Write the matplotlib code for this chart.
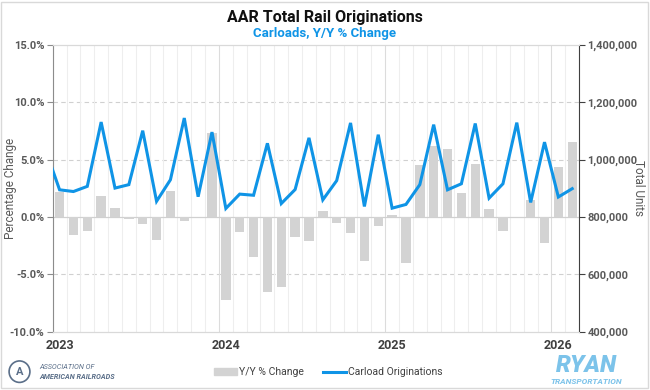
import matplotlib.pyplot as plt
import matplotlib.patches as mpatches
from matplotlib.lines import Line2D
from matplotlib.ticker import FuncFormatter
import numpy as np

plt.rcParams['font.family'] = ['Roboto', 'DejaVu Sans']

# Y/Y % change, Jan 2023 .. Feb 2026
yoy_pct = [2.2, -1.6, -1.2, 1.8, 0.8, -0.2, -0.6, -2.0, 2.3, -0.3, 0.0, 7.3,
           -7.2, -1.3, -3.5, -6.5, -6.1, -1.7, -2.1, 0.55, -0.5, -1.4, -3.8, -0.8,
           0.2, -4.0, 4.5, 6.2, 5.9, 2.1, 4.6, 0.7, -1.2, 0.0, 1.5, -2.3,
           4.4, 6.5]

# carload originations, Dec 2022 .. Feb 2026 (Dec 2022 is clipped by the axis)
carloads = [1033000,
            895000, 889000, 907000, 1131000, 901000, 913000, 1101000, 855000, 930000, 1145000, 871000, 1096000,
            830000, 880000, 876000, 1057000, 847000, 896000, 1076000, 860000, 927000, 1128000, 837000, 1087000,
            831000, 844000, 913000, 1122000, 895000, 916000, 1126000, 866000, 916000, 1129000, 851000, 1061000,
            870000, 899000]

year_labels = ['2023', '2024', '2025', '2026']

blue = '#0f94e6'
grey_bar = '#d3d3d3'
txt = '#595959'

fig = plt.figure(figsize=(6.5, 3.9), dpi=100)
ax = fig.add_axes([0.081, 0.149, 0.810, 0.736])
ax2 = ax.twinx()

x_bar = np.arange(len(yoy_pct))
x_line = np.arange(len(carloads)) - 1

ax.bar(x_bar, yoy_pct, width=0.68, color=grey_bar, zorder=2)
ax2.plot(x_line, carloads, color=blue, lw=2.2, zorder=3, solid_joinstyle='miter')

ax.set_xlim(-0.5, len(yoy_pct) - 0.5)
ax.set_ylim(-10, 15)
ax2.set_ylim(400000, 1400000)

ax.set_yticks(np.arange(-10, 16, 5))
ax.yaxis.set_major_formatter(FuncFormatter(lambda v, p: f'{v:.1f}%'))
ax2.set_yticks(np.arange(400000, 1400001, 200000))
ax2.yaxis.set_major_formatter(FuncFormatter(lambda v, p: f'{v:,.0f}'))

ax.set_xticks([0, 12, 24, 36])
ax.set_xticklabels(year_labels)
ax.tick_params(axis='x', which='both', length=0, pad=5, labelsize=9, labelcolor='#404040')
for lab in ax.get_xticklabels():
    lab.set_fontweight('bold')

# grid
for v in [-5, 5, 10]:
    ax.axhline(v, color='#d0d0d0', lw=0.8, ls=(0, (4, 3)), zorder=0)
ax.axhline(0, color='#d0d0d0', lw=0.9, zorder=1)
for b in np.arange(-0.5, len(yoy_pct), 1):
    c = '#dcdcdc' if (b + 0.5) % 12 == 0 else '#eeeeee'
    ax.axvline(b, color=c, lw=0.8, zorder=0)

for a in (ax, ax2):
    a.spines['top'].set_color('#d9d9d9')
    a.spines['bottom'].set_color('#d9d9d9')
ax.spines['left'].set_color('#8c8c8c')
ax.spines['right'].set_visible(False)
ax2.spines['left'].set_visible(False)
ax2.spines['right'].set_color('#404040')

ax.tick_params(axis='y', length=4, color='#8c8c8c', labelsize=8, labelcolor=txt, pad=2)
ax2.tick_params(axis='y', length=4, color='#404040', labelsize=8, labelcolor=txt, pad=2)
for lab in ax.get_yticklabels() + ax2.get_yticklabels():
    lab.set_fontweight('bold')

fig.text(0.016, 0.517, 'Percentage Change', rotation=90, ha='center', va='center',
         fontsize=8.5, color=txt)
fig.text(0.983, 0.517, 'Total Units', rotation=270, ha='center', va='center',
         fontsize=8.5, color=txt)

fig.text(0.5, 0.955, 'AAR Total Rail Originations', ha='center', va='center',
         fontsize=11.5, fontweight='bold', color='#111111')
fig.text(0.5, 0.913, 'Carloads, Y/Y % Change', ha='center', va='center',
         fontsize=9.5, fontweight='bold', color=blue)

handles = [mpatches.Patch(color=grey_bar, label='Y/Y % Change'),
           Line2D([0], [0], color=blue, lw=2.2, label='Carload Originations')]
leg = fig.legend(handles=handles, loc='center', bbox_to_anchor=(0.505, 0.045), ncol=2,
                 frameon=False, fontsize=7.5, handlelength=2.2, columnspacing=1.8,
                 handletextpad=0.2)
for t in leg.get_texts():
    t.set_color('#404040')

# AAR logo (approximation)
logo_c = '#5b6f89'
fig.patches.append(mpatches.Ellipse((0.03, 0.047), 0.032, 0.055, transform=fig.transFigure,
                                    fill=False, ec=logo_c, lw=1.2))
fig.text(0.03, 0.047, 'A', ha='center', va='center', fontsize=8, fontweight='bold', color=logo_c)
fig.text(0.06, 0.058, 'ASSOCIATION OF', fontsize=5.2, style='italic', color=logo_c, va='center')
fig.text(0.06, 0.034, 'AMERICAN RAILROADS', fontsize=5.2, style='italic', fontweight='bold',
         color=logo_c, va='center')

# RYAN logo (approximation)
logo_b = '#7cc3ea'
fig.text(0.902, 0.062, 'RYAN', ha='center', va='center', fontsize=17, fontweight='heavy',
         style='italic', color=logo_b)
fig.text(0.902, 0.022, 'TRANSPORTATION', ha='center', va='center', fontsize=6,
         fontweight='bold', style='italic', color=logo_b)

# figure border
fig.patches.append(mpatches.Rectangle((0.002, 0.004), 0.995, 0.992, transform=fig.transFigure,
                                      fill=False, ec='#d9d9d9', lw=1))

fig.savefig('out.png', dpi=100)
